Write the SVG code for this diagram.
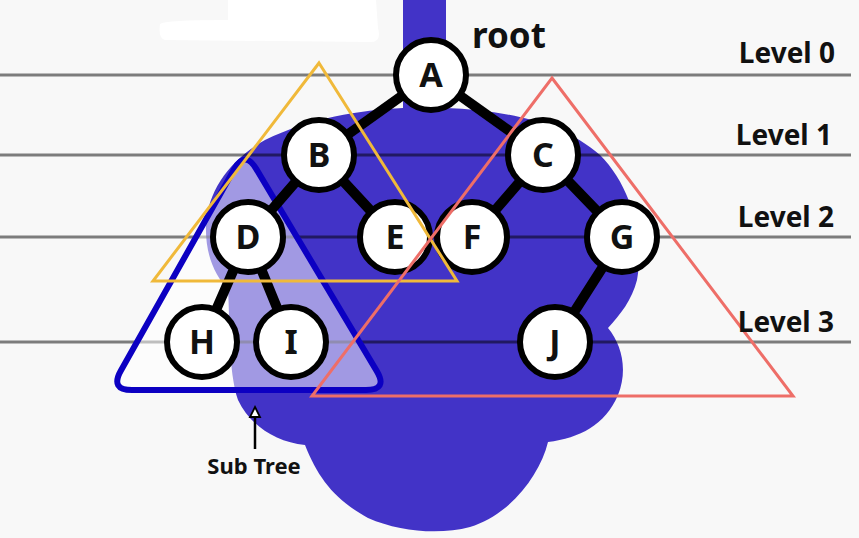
<svg xmlns="http://www.w3.org/2000/svg" width="859" height="538" viewBox="0 0 859 538">
<defs>
<style>
.lvl{stroke:#000;stroke-opacity:0.5;stroke-width:3;fill:none}
.edge{stroke:#000;stroke-width:10;stroke-linecap:round}
.node circle{fill:#fff;stroke:#000;stroke-width:6}
.node text{font-family:"Noto Sans","DejaVu Sans",sans-serif;font-weight:700;font-size:34px;text-anchor:middle;fill:#111}
.lab{font-family:"Noto Sans","DejaVu Sans",sans-serif;font-weight:700;fill:#111}
</style>
</defs>
<rect width="859" height="538" fill="#f8f8f8"/>
<path d="M160,24 Q165,20 228,20 L228,0 L376,0 L378,28 Q382,42 370,42 L165,40 Q158,38 160,24 Z" fill="#ffffff"/>
<g id="blob">
<path d="M403,0 L446,0 L446,108 C500,110 560,120 600,155 C630,185 645,235 637,280 C632,300 620,315 608,328 C622,345 628,370 618,395 C605,425 580,438 548,442 C540,475 510,515 470,527 C440,535 400,532 368,518 C335,500 318,478 305,445 C275,442 250,425 238,400 C228,370 230,320 228,290 C215,275 205,255 206,225 C208,190 230,160 265,140 C310,118 360,110 403,108 Z" fill="#4233c7"/>
</g>
<g id="levels">
<line class="lvl" x1="0" y1="75" x2="851" y2="75"/>
<line class="lvl" x1="0" y1="155" x2="851" y2="155"/>
<line class="lvl" x1="0" y1="237" x2="851" y2="237"/>
<line class="lvl" x1="0" y1="342" x2="851" y2="342"/>
</g>
<g id="subtree-box">
<path d="M234.2,169.2 Q245,150 256.2,168.9 L376.8,371.1 Q388,390 366,390 L132,390 Q110,390 120.8,370.8 Z" fill="#ffffff" fill-opacity="0.5" stroke="#0c00c2" stroke-width="6" stroke-linejoin="round"/>
</g>
<g id="connectors">
<line class="edge" x1="431" y1="75" x2="319" y2="155"/>
<line class="edge" x1="431" y1="75" x2="543" y2="155"/>
<line class="edge" x1="319" y1="155" x2="248" y2="237"/>
<line class="edge" x1="319" y1="155" x2="395" y2="237"/>
<line class="edge" x1="543" y1="155" x2="472" y2="237"/>
<line class="edge" x1="543" y1="155" x2="622" y2="237"/>
<line class="edge" x1="248" y1="237" x2="202" y2="342"/>
<line class="edge" x1="248" y1="237" x2="291" y2="342"/>
<line class="edge" x1="622" y1="237" x2="555" y2="342"/>
</g>
<g id="node-A" class="node"><circle cx="431" cy="75" r="35"/><text x="431" y="87">A</text></g>
<g id="node-B" class="node"><circle cx="319" cy="155" r="35"/><text x="319" y="167">B</text></g>
<g id="node-C" class="node"><circle cx="543" cy="155" r="35"/><text x="543" y="167">C</text></g>
<g id="node-D" class="node"><circle cx="248" cy="237" r="35"/><text x="248" y="249">D</text></g>
<g id="node-E" class="node"><circle cx="395" cy="237" r="35"/><text x="395" y="249">E</text></g>
<g id="node-F" class="node"><circle cx="472" cy="237" r="35"/><text x="472" y="249">F</text></g>
<g id="node-G" class="node"><circle cx="622" cy="237" r="35"/><text x="622" y="249">G</text></g>
<g id="node-H" class="node"><circle cx="202" cy="342" r="35"/><text x="202" y="354">H</text></g>
<g id="node-I" class="node"><circle cx="291" cy="342" r="35"/><text x="291" y="354">I</text></g>
<g id="node-J" class="node"><circle cx="555" cy="342" r="35"/><text x="555" y="354">J</text></g>
<g id="subtree-yellow">
<path d="M319,63 L457,281 L153,281 Z" fill="none" stroke="#f0b93a" stroke-width="3" stroke-linejoin="miter"/>
</g>
<g id="subtree-red">
<path d="M552,78 L793,396 L312,396 Z" fill="none" stroke="#ee6e68" stroke-width="3" stroke-linejoin="miter"/>
</g>
<g id="labels">
<text class="lab" x="472" y="48" font-size="35">root</text>
<text class="lab" x="835" y="63" font-size="28" text-anchor="end">Level 0</text>
<text class="lab" x="832" y="145" font-size="28" text-anchor="end">Level 1</text>
<text class="lab" x="834" y="227" font-size="28" text-anchor="end">Level 2</text>
<text class="lab" x="834" y="332" font-size="28" text-anchor="end">Level 3</text>
<text class="lab" x="254" y="474" font-size="22" text-anchor="middle">Sub Tree</text>
</g>
<g id="subtree-arrow">
<line x1="255" y1="449" x2="255" y2="417" stroke="#000" stroke-width="2.5"/>
<path d="M255,407 L260,417 L250,417 Z" fill="#fff" stroke="#000" stroke-width="1.8" stroke-linejoin="miter"/>
</g>
</svg>
